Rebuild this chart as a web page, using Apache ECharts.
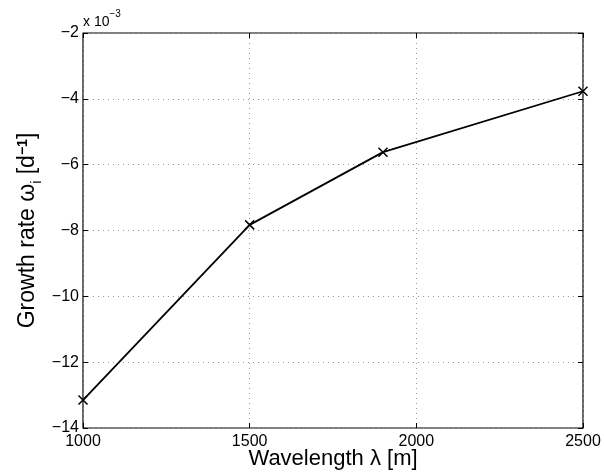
<!DOCTYPE html>
<html>
<head>
<meta charset="utf-8">
<script src="https://cdn.jsdelivr.net/npm/echarts@6/dist/echarts.min.js"></script>
<style>html,body{margin:0;padding:0;background:#fff}#c{width:604px;height:472px}</style>
</head>
<body>
<div id="c"></div>
<script>
var wavelengths = [1000, 1500, 1900, 2500];
var growthRates = [-13.15, -7.83, -5.62, -3.77];
var xTicks = [1000, 1500, 2000, 2500];
var yTicks = [-14, -12, -10, -8, -6, -4, -2];

var FONT = '"Liberation Sans", Arial, Helvetica, sans-serif';
var chart = echarts.init(document.getElementById('c'));
var data = wavelengths.map(function (w, i) { return [w, growthRates[i]]; });
function fmtY(v) { return String(v).replace('-', '\u2212'); }
function fmtX(v) { return String(v); }

var option = {
  animation: false,
  backgroundColor: '#fff',
  grid: { left: 83, top: 33, right: 21, bottom: 44, show: true, borderColor: '#000', borderWidth: 1.2, containLabel: false, outerBoundsMode: 'none' },
  xAxis: [{
    type: 'value', min: xTicks[0], max: xTicks[xTicks.length - 1], interval: 500,
    axisLine: { show: false },
    axisTick: { show: true, inside: true, length: 5, lineStyle: { color: '#000' } },
    axisLabel: { color: '#000', fontSize: 16, fontFamily: FONT, margin: 6, formatter: fmtX },
    splitLine: { show: true, lineStyle: { color: '#999', type: [1, 4], width: 1 } },
    name: 'Wavelength \u03bb [m]', nameLocation: 'middle', nameGap: 20, nameMoveOverlap: false,
    nameTextStyle: { color: '#000', fontSize: 22, fontFamily: FONT }
  }, {
    type: 'value', position: 'top', min: xTicks[0], max: xTicks[xTicks.length - 1], interval: 500,
    axisLine: { show: false }, axisLabel: { show: false }, splitLine: { show: false },
    axisTick: { show: true, inside: true, length: 5, lineStyle: { color: '#000' } }
  }],
  yAxis: [{
    type: 'value', min: yTicks[0], max: yTicks[yTicks.length - 1], interval: 2,
    axisLine: { show: false },
    axisTick: { show: true, inside: true, length: 5, lineStyle: { color: '#000' } },
    axisLabel: { color: '#000', fontSize: 16, fontFamily: FONT, margin: 4, formatter: fmtY },
    splitLine: { show: true, lineStyle: { color: '#999', type: [1, 4], width: 1 } },
    name: '{a|Growth rate \u03c9}{sub|i}{a| [d}{sup|\u22121}{a|]}', nameLocation: 'middle', nameGap: 42, nameMoveOverlap: false,
    nameTextStyle: {
      color: '#000', fontSize: 23, fontFamily: FONT,
      rich: {
        a: { fontSize: 23, fontFamily: FONT, color: '#000', verticalAlign: 'top', lineHeight: 25 },
        sub: { fontSize: 14, fontFamily: FONT, color: '#000', verticalAlign: 'top', lineHeight: 14, padding: [14, 0, 0, 0] },
        sup: { fontSize: 14, fontFamily: FONT, color: '#000', fontWeight: 'bold', verticalAlign: 'top', lineHeight: 14, padding: [0, 0, 0, 0] }
      }
    }
  }, {
    type: 'value', position: 'right', min: yTicks[0], max: yTicks[yTicks.length - 1], interval: 2,
    axisLine: { show: false }, axisLabel: { show: false }, splitLine: { show: false },
    axisTick: { show: true, inside: true, length: 5, lineStyle: { color: '#000' } }
  }],
  graphic: [{
    type: 'text', left: 83, top: 9,
    style: {
      text: '{a|x 10}{s|\u22123}',
      rich: {
        a: { fontSize: 14, fontFamily: FONT, fill: '#000', verticalAlign: 'top', lineHeight: 16, padding: [6, 0, 0, 0] },
        s: { fontSize: 10, fontFamily: FONT, fill: '#000', verticalAlign: 'top', lineHeight: 12 }
      }
    }
  }],
  series: [{
    type: 'line', data: data, clip: false,
    symbol: 'path://M0,0L10,10M10,0L0,10', symbolSize: 9,
    lineStyle: { color: '#000', width: 1.8 },
    itemStyle: { color: 'rgba(0,0,0,0)', borderColor: '#000', borderWidth: 1.5 }
  }]
};
chart.setOption(option);
</script>
</body>
</html>
